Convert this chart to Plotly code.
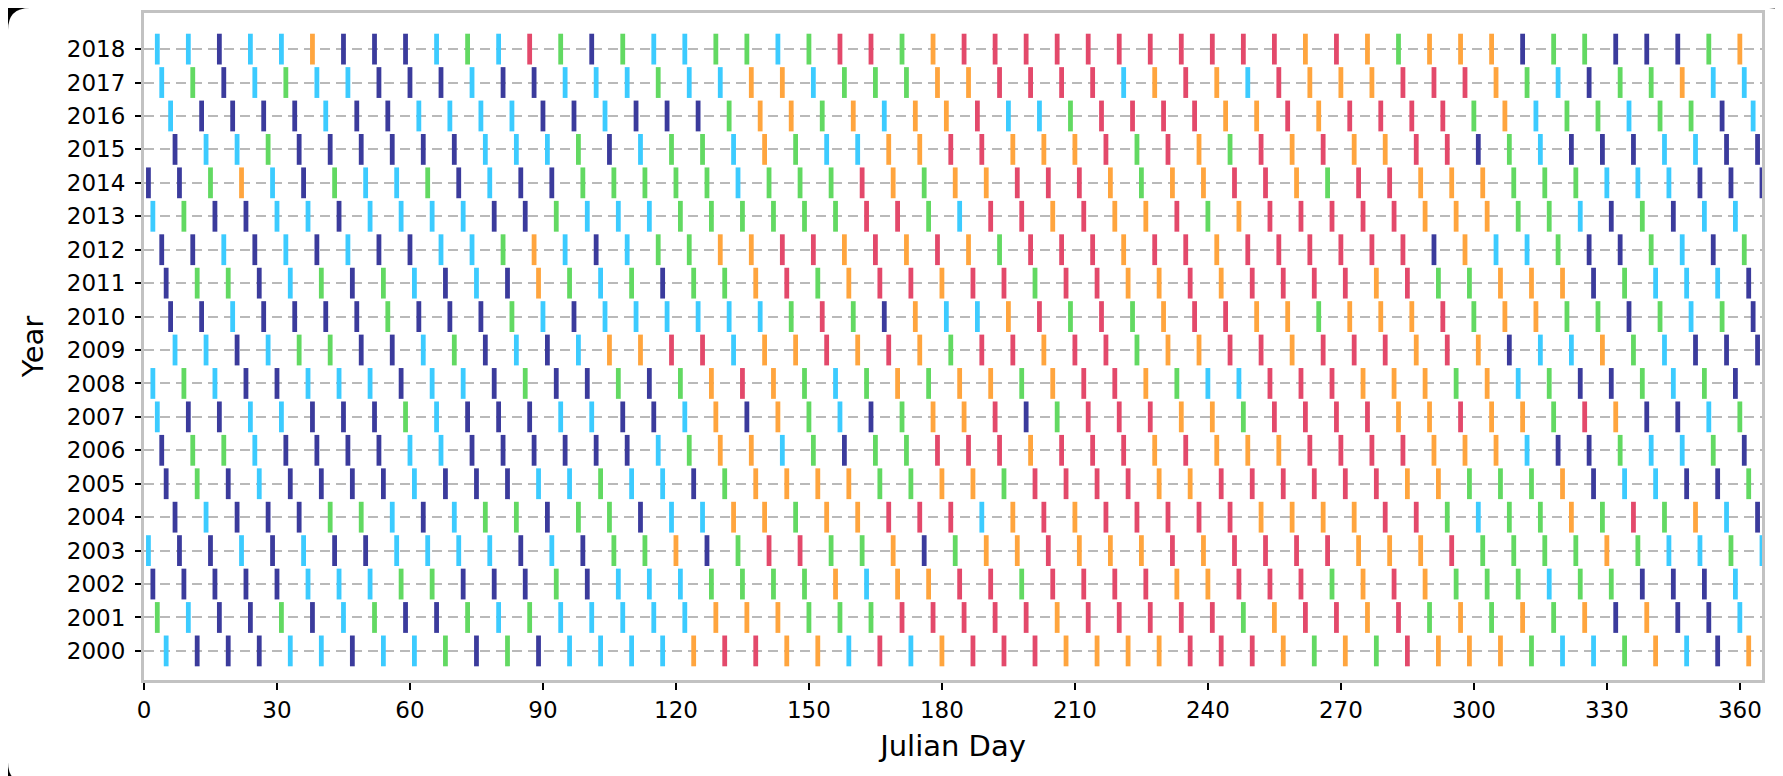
import plotly.graph_objects as go

# ---- data ----
years = list(range(2000, 2019))
# day of year (x) of the first weekly observation in each year
first_day = [5, 3, 2, 1, 7, 5, 4, 3, 2, 7, 6, 5, 4, 2, 1, 7, 6, 4, 3]
week_step = 7
# weekly category codes per year (D=dark blue, L=light blue, G=green, O=orange, R=red)
year_codes = [
    "LDDDLLDLLGDGDLLLL" "ORROOLRLORRROOOOR" "RROGOGROOOGLLGOLDO",   # 2000
    "GLDDGDLGDDGLGLLLL" "LOOOGGGRRRRRORRRRR" "GORRORGOGOGODODDL",   # 2001
    "DDDDDLLLGGDDDGDLL" "LGGGGOLOORRGRRRROO" "RRRGOROGGGLGGDDDL",   # 2002
    "LDDLDLDDLLLLDLDGGO" "DGRRGGODGOOROOORO" "RRRROOORGGGGOGLLGL",  # 2003
    "DLDDDGGLDLGGDGGDL" "LOOGOORRRLORORRRR" "ROOOORRGLGGOGRGOLD",   # 2004
    "DGDLDDDDLDDDLLGLL" "DGOOOOGGOOGRRRROO" "RRRRRROOGGGODLLDDG",   # 2005
    "DGGLDDDDLLDDDDDDL" "GOOLGDGGRRRORRRORO" "OORRRROOOLDDGLLGD",   # 2006
    "LDDLLDDDGLDDDLLDD" "LODOGLDGOORDGRRROO" "GRRRROOROOGRODDLG",   # 2007
    "LGLDDLLLDLLDGDDGD" "GOROGLGOGOOGORROGL" "LRRROOOGOLGDDGLGD",   # 2008
    "LLDLGGDDLGDLDLOOR" "RLOOROROGRRORRGOO" "RRORRRORODLLOGLDDD",   # 2009
    "DDLDDDDGDDDGLDLLL" "LLLGRGDOLLORGRGOR" "ROOGOOORGOOGGDGLGD",   # 2010
    "DGGDLGDGLDLDOGLGD" "GGORGORRORRGRROOR" "ORRRRORGGOOODGLLLD",   # 2011
    "DDLDLDLDDLLGOLDLG" "GOORRORORO" "GRRRORRO" "RRRRRRDOLLGDDGLDG",  # 2012
    "LGDDLLDLLLLDDGLLL" "GGGGGGRRGL" "RRORОORG".replace("О", "O") + "ORRRRROOOGGLDGDLL",  # 2013
    "DDGOLDGLLGDLDDGGGG" "GLGGGROGOORRROGOO" "RROGRROOOGGGLLLDDD",  # 2014
    "DLLGDDDDDDLLLGDLG" "GLOGLLOORROOORGRO" "GROROORRDGLDDDLLDD",   # 2015
    "LDDDDLDDLLLLDDLDD" "DGOOGOLOORLLGRRRR" "OOROR" "RRRGOLGGLGGDL",  # 2016
    "LGDLGLLDDDLDDLLLG" "LLOOLGGGOORRRRLORO" "LROOORRROGLDGGOLL",   # 2017
    "LLDLLODDDLGLRGDGL" "LGGLGRRGORRRRRRRRR" "RRОROGOOODGGDDDGO".replace("О", "O"),  # 2018
]
categories = ["D", "L", "G", "O", "R"]
cat_colors = ["#3b3b9c", "#3ccbff", "#62d962", "#ffa53e", "#e3496b"]
x_ticks = list(range(0, 361, 30))

W, H = 1783, 776
ML, MR, MT, MB = 136, 29, 5, 104

fig = go.Figure()
for cat, col in zip(categories, cat_colors):
    xs, ys = [], []
    for yr, d0, code in zip(years, first_day, year_codes):
        for i, c in enumerate(code):
            if c == cat:
                xs.append(d0 + week_step * i)
                ys.append(yr)
    fig.add_trace(go.Scatter(
        x=xs, y=ys, mode="markers", name=cat, showlegend=False,
        marker=dict(symbol="line-ns", size=22, color=col,
                    line=dict(color=col, width=4.8)),
        cliponaxis=True,
    ))

# white card with rounded corners over a black page (as in the reference image)
pw, ph = W - ML - MR, H - MT - MB
x0, x1 = -ML / pw, 1 + MR / pw
y0, y1 = -MB / ph, 1 + MT / ph
rx, ry = 22 / pw, 22 / ph
card = (f"M{x0+rx},{y0} L{x1-rx},{y0} Q{x1},{y0} {x1},{y0+ry} "
        f"L{x1},{y1-ry} Q{x1},{y1} {x1-rx},{y1} L{x0+rx},{y1} "
        f"Q{x0},{y1} {x0},{y1-ry} L{x0},{y0+ry} Q{x0},{y0} {x0+rx},{y0} Z")

fig.update_layout(
    width=W, height=H,
    margin=dict(l=ML, r=MR, t=MT, b=MB, autoexpand=False),
    paper_bgcolor="black", plot_bgcolor="white",
    font=dict(family="DejaVu Sans", color="black"),
    showlegend=False,
    shapes=[dict(type="path", path=card, xref="paper", yref="paper",
                 fillcolor="white", line=dict(width=0), layer="below")],
)
fig.update_xaxes(
    range=[0, 365], tickmode="array", tickvals=x_ticks,
    ticks="outside", ticklen=7, tickwidth=1.5, tickcolor="black",
    tickfont=dict(size=23, color="black"),
    showline=True, linecolor="#c2c2c2", linewidth=3, mirror=True,
    showgrid=False, zeroline=False, automargin=False,
    title=dict(text="Julian Day", font=dict(size=29), standoff=15),
)
fig.update_yaxes(
    range=[1999.13, 2019.08], tickmode="array", tickvals=years,
    ticks="outside", ticklen=6, tickwidth=1.5, tickcolor="black",
    tickfont=dict(size=23, color="black"), ticklabelstandoff=5,
    showline=True, linecolor="#c2c2c2", linewidth=3, mirror=True,
    showgrid=True, gridcolor="#b9b9b9", gridwidth=2.2, griddash="10px,6px",
    zeroline=False, automargin=False,
    title=dict(text="Year", font=dict(size=29), standoff=15),
)

fig.write_html("out.html")
